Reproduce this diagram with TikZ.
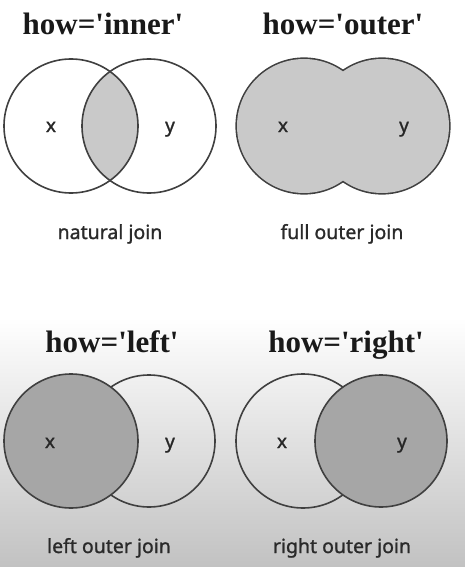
\documentclass[tikz,border=0pt]{standalone}
\usepackage{fontspec}
\setmainfont{Liberation Serif}
\newfontfamily\capfont[FakeBold=1.2]{Noto Sans}
\usetikzlibrary{positioning}
\definecolor{ringcol}{HTML}{404040}
\definecolor{lightfill}{HTML}{C9C9C9}
\definecolor{darkfill}{HTML}{A6A6A6}
\definecolor{bggray}{HTML}{C2C2C2}
\definecolor{capcol}{HTML}{2A2A2A}
\tikzset{%
	ring/.style     = {draw=ringcol, line width=1.6pt}, % outline of a set
	title/.style    = {anchor=base, font=\fontsize{31}{32}\selectfont\bfseries, text=black!90}, % how=...
	caption/.style  = {anchor=base, font=\capfont\fontsize{19.5}{21}\selectfont, text=capcol}, % join name
	setlabel/.style = {anchor=base, font=\capfont\fontsize{19}{20}\selectfont, text=black!85}, % x / y
}
\newcommand{\q}{\textquotesingle}

\begin{document}
\begin{tikzpicture}[x=1pt,y=-1pt]
	\useasboundingbox (0,0) rectangle (465,567);
	\fill[white] (0,0) rectangle (465,567);
	\shade[top color=white,bottom color=bggray] (0,317) rectangle (465,567);

	% inner
	\begin{scope}
		\clip (71,126) circle (67);
		\fill[lightfill] (149,126) circle (67);
	\end{scope}
	\draw[ring] (71,126) circle (67);
	\draw[ring] (149,126) circle (67);

	% outer
	\draw[ring, line width=3.2pt] (304,126) circle (67);
	\draw[ring, line width=3.2pt] (382,126) circle (67);
	\fill[lightfill] (304,126) circle (67);
	\fill[lightfill] (382,126) circle (67);

	% left
	\draw[ring] (149,441) circle (66);
	\filldraw[ring, fill=darkfill] (71,441) circle (67);

	% right
	\draw[ring] (303,441) circle (67);
	\filldraw[ring, fill=darkfill] (381,441) circle (66);

	\node [title] (tinner) at (103,35) {how=\q inner\q};
	\node [title] (touter) at (343,35) {how=\q outer\q};
	\node [title] (tleft) at (112,352) {how=\q left\q};
	\node [title] (tright) at (346,352) {how=\q right\q};

	\node [setlabel] (xa) at (51,132) {x};
	\node [setlabel] (ya) at (170,132) {y};
	\node [setlabel] (xb) at (283,132) {x};
	\node [setlabel] (yb) at (404,132) {y};
	\node [setlabel] (xc) at (50,448) {x};
	\node [setlabel] (yc) at (170,448) {y};
	\node [setlabel] (xd) at (282,448) {x};
	\node [setlabel] (yd) at (402,448) {y};

	\node [caption] (cinner) at (110,239) {natural join};
	\node [caption] (couter) at (342,239) {full outer join};
	\node [caption] (cleft) at (109,553) {left outer join};
	\node [caption] (cright) at (342,553) {right outer join};
\end{tikzpicture}
\end{document}
